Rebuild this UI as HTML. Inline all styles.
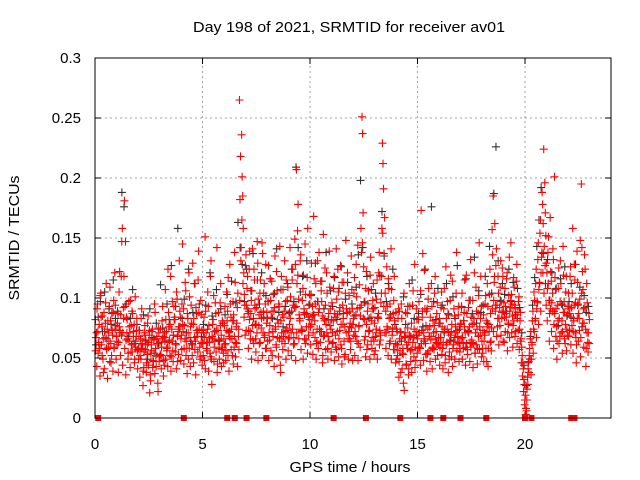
<!DOCTYPE html>
<html><head><meta charset="utf-8"><style>
html,body{margin:0;padding:0;background:#fff;}
svg{display:block;font-family:"Liberation Sans",sans-serif;}
</style></head><body>
<svg id="chart" width="640" height="480" viewBox="0 0 640 480" xmlns="http://www.w3.org/2000/svg">
<rect width="640" height="480" fill="#fff"/>
<g id="grid"></g>
<g id="ticks"></g>
<g id="blackPts"></g>
<g id="redPts"></g>
<g id="zeroPts"></g>
<rect x="95" y="58" width="516" height="360" fill="none" stroke="#000" stroke-width="1"/>
<text x="349" y="32" font-size="15" text-anchor="middle" textLength="312" lengthAdjust="spacingAndGlyphs">Day 198 of 2021, SRMTID for receiver av01</text>
<text x="350" y="472" font-size="15" text-anchor="middle" textLength="121" lengthAdjust="spacingAndGlyphs">GPS time / hours</text>
<text x="0" y="0" font-size="15" text-anchor="middle" textLength="125" lengthAdjust="spacingAndGlyphs" transform="translate(19,238) rotate(-90)">SRMTID / TECUs</text>
</svg>
<script>
const xTicks=[0,5,10,15,20];
const yTicks=[0,0.05,0.1,0.15,0.2,0.25,0.3];
const yTickLabels=["0","0.05","0.1","0.15","0.2","0.25","0.3"];
const redStep=0.05;
const redA=[
.082,.071,.095,.063,.058,.104,.076,.049,.088,.067,.112,.074,.059,.093,.081,.052,.069,.098,.121,.077,
.064,.087,.105,.073,.118,.158,.092,.181,.147,.084,.066,.097,.071,.055,.089,.062,.078,.101,.068,.057,
.049,.073,.066,.091,.058,.042,.077,.064,.053,.085,.069,.036,.061,.074,.047,.095,.058,.066,.029,.071,
.063,.052,.081,.068,.044,.107,.072,.059,.088,.065,.118,.074,.056,.093,.082,.061,.099,.072,.131,.084,
.069,.145,.091,.077,.106,.058,.083,.121,.067,.094,.052,.078,.112,.064,.087,.071,.139,.059,.098,.073,
.062,.084,.151,.071,.056,.093,.067,.118,.049,.078,.102,.064,.087,.142,.073,.058,.096,.069,.081,.054,
.077,.062,.105,.089,.071,.128,.084,.066,.097,.059,.113,.076,.092,.068,.265,.218,.236,.185,.121,.094,
.136,.108,.087,.124,.072,.098,.141,.083,.115,.066,.092,.129,.077,.104,.088,.146,.071,.112,.095,.058,
.083,.127,.065,.098,.114,.072,.089,.135,.061,.106,.079,.093,.044,.118,.086,.068,.131,.097,.075,.109,
.087,.142,.071,.115,.094,.062,.128,.207,.156,.099,.083,.136,.072,.108,.091,.145,.065,.117,.084,.103,
.076,.129,.093,.168,.081,.112,.064,.097,.138,.072,.106,.085,.153,.069,.094,.121,.058,.087,.109,.074,
.096,.063,.118,.084,.141,.072,.105,.089,.127,.058,.094,.113,.076,.148,.087,.066,.102,.079,.135,.091,
.083,.117,.068,.101,.144,.076,.092,.158,.251,.171,.097,.068,.122,.089,.106,.073,.134,.081,.098,.064,
.092,.071,.115,.083,.138,.065,.104,.229,.191,.167,.089,.126,.074,.108,.095,.141,.069,.087,.118,.062,
.074,.052,.091,.066,.038,.083,.058,.104,.071,.045,.087,.063,.112,.056,.079,.094,.067,.128,.048,.082,
.069,.097,.058,.173,.084,.071,.123,.062,.089,.054,.108,.076,.065,.093,.081,.057,.118,.072,.096,.061,
.083,.067,.105,.058,.091,.074,.126,.063,.087,.049,.098,.072,.114,.061,.085,.076,.138,.068,.093,.055,
.079,.104,.063,.088,.071,.119,.057,.092,.076,.132,.065,.098,.083,.054,.109,.074,.087,.146,.069,.093,
.058,.086,.071,.102,.047,.093,.078,.124,.064,.157,.185,.113,.089,.141,.076,.104,.092,.131,.083,.118,
.096,.108,.087,.121,.079,.134,.092,.103,.085,.117,.094,.072,.128,.088,.101,.081,.066,.052,.041,.028,
.019,.006,.034,.047,.058,.072,.063,.089,.105,.081,.124,.097,.146,.113,.165,.134,.178,.224,.196,.152,
.121,.138,.098,.167,.114,.089,.132,.201,.107,.076,.094,.125,.068,.112,.081,.143,.097,.062,.118,.086,
.104,.073,.126,.092,.158,.081,.115,.067,.139,.095,.083,.148,.195,.122,.091,.136,.074,.112,.063,.087];
const redB=[
.067,.091,.054,.078,.102,.061,.085,.038,.072,.096,.057,.081,.064,.109,.046,.073,.088,.059,.094,.068,
.079,.063,.122,.086,.147,.071,.118,.093,.065,.082,.054,.076,.098,.061,.087,.072,.049,.064,.083,.056,
.068,.052,.083,.061,.039,.071,.057,.046,.079,.063,.021,.054,.072,.048,.066,.088,.043,.062,.075,.051,
.074,.059,.093,.048,.067,.082,.056,.124,.063,.078,.051,.097,.069,.084,.062,.105,.047,.076,.089,.066,
.095,.072,.058,.113,.064,.087,.049,.101,.076,.062,.129,.083,.057,.092,.068,.115,.074,.051,.086,.063,
.071,.048,.089,.063,.105,.077,.054,.131,.068,.082,.059,.096,.073,.045,.088,.064,.112,.057,.079,.066,
.093,.056,.081,.117,.068,.095,.074,.052,.086,.138,.063,.079,.104,.057,.182,.142,.201,.158,.103,.127,
.094,.118,.073,.139,.087,.106,.065,.124,.091,.078,.147,.099,.062,.115,.083,.137,.104,.069,.128,.088,
.097,.071,.116,.084,.052,.103,.092,.076,.122,.067,.095,.143,.081,.064,.107,.089,.072,.115,.098,.066,
.078,.101,.089,.124,.067,.149,.093,.112,.178,.086,.131,.074,.098,.119,.066,.103,.087,.158,.076,.095,
.102,.085,.071,.116,.095,.062,.131,.088,.074,.114,.097,.052,.083,.125,.078,.104,.068,.139,.091,.082,
.071,.108,.087,.059,.099,.124,.066,.092,.078,.113,.083,.051,.104,.091,.121,.072,.089,.064,.107,.078,
.104,.072,.128,.091,.062,.111,.085,.138,.237,.126,.082,.108,.057,.095,.073,.119,.064,.091,.112,.079,
.068,.099,.084,.121,.073,.096,.158,.212,.137,.104,.071,.093,.116,.062,.084,.107,.075,.098,.057,.088,
.061,.083,.047,.072,.095,.054,.029,.068,.088,.061,.075,.041,.093,.068,.057,.106,.074,.059,.091,.066,
.082,.059,.106,.073,.137,.064,.091,.077,.053,.099,.068,.084,.112,.058,.071,.104,.066,.087,.062,.079,
.059,.092,.076,.063,.108,.052,.083,.097,.071,.064,.119,.078,.058,.091,.067,.104,.073,.086,.062,.078,
.092,.067,.081,.115,.059,.087,.073,.098,.063,.084,.078,.062,.121,.071,.089,.058,.102,.076,.118,.064,
.073,.064,.095,.081,.112,.058,.103,.087,.075,.136,.098,.162,.127,.094,.118,.083,.109,.097,.125,.089,
.084,.093,.116,.071,.102,.089,.146,.095,.077,.109,.091,.114,.083,.097,.074,.088,.059,.046,.032,.015,
.008,.024,.041,.052,.066,.049,.081,.074,.098,.112,.091,.132,.107,.154,.121,.188,.162,.143,.171,.129,
.108,.151,.087,.122,.096,.141,.078,.117,.091,.064,.108,.083,.131,.095,.072,.119,.088,.105,.074,.093,
.091,.118,.084,.104,.072,.128,.096,.061,.113,.087,.099,.067,.142,.107,.079,.124,.058,.096,.071,.082];
const redC=[
.056,.043,.072,.061,.035,.084,.052,.066,.041,.079,.058,.033,.071,.047,.062,.087,.039,.058,.074,.049,
.061,.038,.076,.052,.069,.044,.083,.058,.036,.071,.049,.064,.042,.077,.055,.068,.046,.059,.073,.041,
.058,.034,.049,.062,.027,.055,.069,.038,.061,.044,.073,.031,.056,.042,.065,.037,.052,.068,.022,.047,
.053,.041,.066,.035,.071,.049,.058,.043,.076,.052,.039,.064,.047,.082,.055,.041,.068,.053,.074,.048,
.057,.078,.045,.066,.052,.037,.071,.058,.043,.079,.061,.046,.067,.036,.073,.055,.088,.049,.062,.044,
.052,.067,.041,.058,.074,.039,.063,.051,.028,.066,.047,.072,.055,.038,.064,.049,.077,.043,.059,.046,
.061,.048,.073,.052,.039,.066,.057,.081,.045,.068,.051,.062,.043,.074,.098,.131,.165,.112,.084,.069,
.073,.091,.058,.082,.066,.049,.077,.062,.094,.055,.071,.048,.086,.063,.075,.052,.089,.067,.058,.079,
.064,.048,.077,.056,.089,.068,.043,.074,.059,.082,.051,.066,.038,.071,.057,.084,.062,.049,.073,.056,
.067,.083,.052,.074,.061,.092,.048,.071,.119,.066,.081,.057,.073,.049,.088,.062,.076,.054,.069,.082,
.061,.078,.053,.086,.067,.049,.074,.058,.091,.063,.072,.046,.068,.081,.057,.071,.049,.064,.077,.055,
.062,.081,.048,.069,.057,.086,.051,.073,.061,.045,.078,.064,.053,.071,.088,.049,.066,.057,.075,.048,
.069,.052,.086,.064,.048,.077,.059,.094,.146,.083,.065,.051,.078,.061,.072,.049,.084,.058,.067,.053,
.056,.074,.049,.087,.061,.069,.118,.154,.093,.071,.058,.076,.052,.083,.064,.049,.072,.057,.081,.046,
.049,.061,.034,.056,.071,.041,.053,.023,.067,.044,.058,.036,.069,.047,.038,.063,.051,.042,.072,.054,
.058,.071,.044,.062,.089,.048,.066,.053,.039,.074,.056,.047,.068,.041,.059,.077,.049,.063,.052,.067,
.044,.067,.053,.041,.072,.046,.061,.074,.038,.055,.069,.051,.043,.064,.049,.071,.056,.063,.047,.058,
.066,.049,.058,.076,.044,.062,.053,.071,.047,.059,.063,.042,.079,.054,.061,.045,.068,.057,.083,.051,
.054,.047,.069,.058,.076,.043,.072,.063,.056,.091,.072,.118,.094,.068,.083,.061,.077,.069,.088,.064,
.063,.072,.084,.056,.078,.067,.098,.071,.059,.081,.068,.086,.062,.073,.057,.064,.046,.035,.022,.011,
.003,.015,.028,.038,.049,.036,.061,.054,.072,.083,.067,.096,.078,.112,.089,.138,.121,.104,.127,.094,
.081,.112,.064,.091,.072,.104,.058,.087,.068,.049,.081,.062,.097,.071,.054,.088,.066,.078,.056,.069,
.068,.087,.061,.077,.054,.094,.071,.046,.083,.064,.073,.051,.104,.079,.059,.092,.043,.071,.055,.062];
const blackStep=0.1;
const blackVals=[
.061,.084,.097,.072,.105,.066,.091,.078,.115,.083,
.089,.071,.188,.176,.095,.068,.083,.107,.062,.078,
.073,.058,.086,.065,.049,.091,.067,.054,.079,.062,
.111,.075,.064,.095,.082,.127,.069,.093,.158,.076,
.083,.099,.071,.124,.064,.088,.112,.073,.095,.068,
.078,.094,.063,.121,.085,.072,.107,.065,.091,.079,
.086,.103,.072,.114,.081,.096,.163,.142,.128,.097,
.124,.089,.106,.137,.078,.115,.095,.121,.084,.102,
.097,.116,.083,.104,.141,.088,.107,.076,.093,.112,
.088,.124,.097,.209,.142,.105,.118,.086,.131,.094,
.103,.086,.129,.097,.072,.114,.091,.138,.082,.106,
.093,.117,.082,.108,.126,.087,.099,.113,.076,.095,
.085,.109,.136,.198,.142,.096,.118,.083,.107,.091,
.104,.084,.119,.172,.135,.097,.112,.086,.124,.078,
.072,.089,.064,.101,.078,.093,.067,.115,.083,.069,
.087,.103,.076,.124,.091,.068,.176,.097,.082,.108,
.079,.094,.071,.112,.086,.065,.101,.083,.127,.074,
.093,.081,.116,.072,.098,.087,.134,.079,.106,.088,
.094,.118,.079,.143,.104,.187,.226,.131,.098,.112,
.103,.089,.124,.097,.113,.086,.108,.092,.071,.044,
.027,.046,.068,.094,.117,.143,.165,.192,.137,.112,
.132,.098,.121,.089,.108,.077,.116,.094,.126,.085,
.097,.112,.083,.128,.094,.109,.076,.102,.088,.093];
const zeroTimes=[0.15,4.13,6.15,6.5,7.05,7.97,11.1,12.6,14.2,15.6,16.2,17.0,18.2,20.0,20.3,22.15,22.3];

const NS='http://www.w3.org/2000/svg';
const X0=95,X1=611,Y0=418,Y1=58,XMAX=24,YMAX=0.3;
function xs(t){return X0+(X1-X0)*t/XMAX;}
function ys(v){return Y0-(Y0-Y1)*v/YMAX;}
function mk(tag,attrs,parent){const e=document.createElementNS(NS,tag);for(const k in attrs)e.setAttribute(k,attrs[k]);parent.appendChild(e);return e;}

const grid=document.getElementById('grid'),ticks=document.getElementById('ticks');
xTicks.forEach(t=>{
  const x=xs(t);
  if(t>0){const g=mk('line',{x1:x,x2:x,y1:Y0,y2:Y1,stroke:'#a0a0a0','stroke-dasharray':'2,3'},grid);
  
  }
  const tk=mk('path',{d:`M${x},${Y0}v-6M${x},${Y1}v6`,stroke:'#000'},ticks);
  
  
  const lb=mk('text',{x:x,y:449,'font-size':15,'text-anchor':'middle'},ticks);lb.textContent=String(t);
  
  
});
yTicks.forEach((v,i)=>{
  const y=ys(v);
  if(v>0&&v<YMAX){const g=mk('line',{x1:X0,x2:X1,y1:y,y2:y,stroke:'#a0a0a0','stroke-dasharray':'2,3'},grid);
  
  }
  const tk=mk('path',{d:`M${X0},${y}h6M${X1},${y}h-6`,stroke:'#000'},ticks);
  
  
  const lb=mk('text',{x:81,y:y+5,'font-size':15,'text-anchor':'end'},ticks);lb.textContent=yTickLabels[i];
  
  
});
function plus(parent,t,v,color,name){
  const x=xs(t),y=ys(v);
  const p=mk('path',{d:`M${x-4},${y}h8M${x},${y-4}v8`,stroke:color,'stroke-width':1.1},parent);
  
  
}
const bg=document.getElementById('blackPts'),rg=document.getElementById('redPts'),zg=document.getElementById('zeroPts');
blackVals.forEach((v,i)=>plus(bg,0.05+i*blackStep,v,'#333','black-point'));
redA.forEach((v,i)=>plus(rg,0.02+i*redStep,v,'#ff0000','red-point'));
redB.forEach((v,i)=>plus(rg,0.045+i*redStep,v,'#ff0000','red-point'));
redC.forEach((v,i)=>plus(rg,0.033+i*redStep,v,'#ff0000','red-point'));
zeroTimes.forEach(t=>{
  const r=mk('rect',{x:xs(t)-3,y:Y0-3,width:6,height:6,fill:'#ff0000'},zg);
  
  
});
</script>
</body></html>
